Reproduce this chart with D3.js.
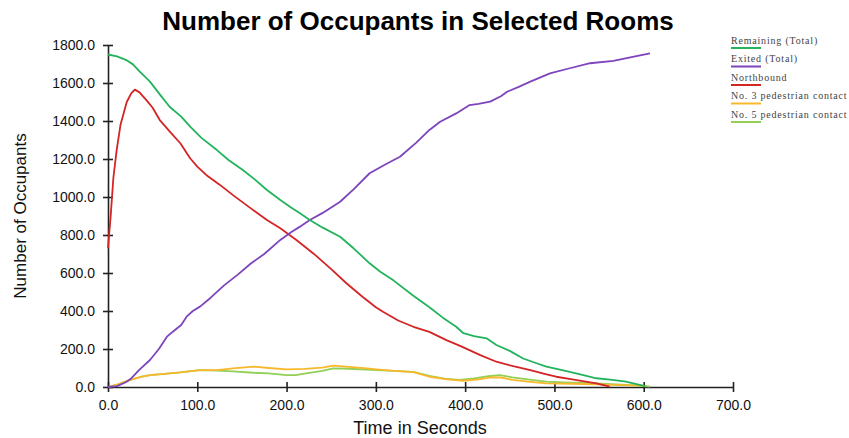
<!DOCTYPE html>
<html>
<head>
<meta charset="utf-8">
<script src="https://cdn.jsdelivr.net/npm/d3@7"></script>
<style>
  html, body { margin: 0; padding: 0; background: #fff; }
  svg { display: block; }
</style>
</head>
<body>
<svg id="chart" width="849" height="438"></svg>
<script>
// Occupant counts per room over time: [seconds, occupants]
const remainingTotal = [[0,1750],[10,1740],[20,1722],[28,1698],[35,1662],[47,1607],[58,1540],[69,1475],[82,1423],[92,1370],[105,1310],[122,1247],[135,1195],[151,1142],[165,1090],[178,1037],[193,984],[205,945],[215,914],[226,879],[240,840],[260,791],[275,730],[293,651],[305,607],[320,560],[342,480],[360,420],[375,365],[390,317],[398,283],[410,268],[424,256],[435,221],[450,190],[465,150],[480,125],[491,107],[510,88],[530,65],[547,46],[565,38],[580,28],[599,7],[602,3]];
const exitedTotal = [[0,0],[10,5],[20,25],[26,45],[35,90],[47,142],[57,200],[66,265],[75,300],[82,326],[88,370],[95,400],[103,423],[115,470],[130,535],[145,590],[160,650],[175,700],[193,774],[205,815],[215,844],[226,879],[240,915],[260,975],[275,1040],[293,1125],[310,1170],[327,1212],[345,1285],[360,1353],[372,1396],[390,1440],[405,1484],[415,1490],[428,1502],[440,1530],[447,1554],[460,1580],[473,1607],[495,1651],[515,1675],[540,1704],[566,1717],[585,1735],[607,1756]];
const northbound = [[0,730],[3,900],[6,1100],[9.7,1247],[14,1380],[21,1500],[26,1545],[30,1565],[35,1552],[43,1510],[50,1470],[58,1405],[70,1340],[81,1283],[92,1204],[100,1160],[110,1116],[125,1065],[140,1010],[160,940],[178,879],[193,835],[211,774],[230,703],[250,620],[267,546],[285,475],[300,420],[308,396],[325,350],[342,317],[360,290],[379,247],[395,215],[417,168],[435,133],[455,108],[473,89],[490,68],[502,54],[520,40],[535,28],[547,19],[555,10],[562,2]];
const pedContact3 = [[0,0],[10,12],[20,30],[28,42],[38,55],[47,63],[60,68],[81,77],[95,85],[103,89],[122,89],[140,98],[163,107],[180,100],[200,93],[220,95],[240,102],[252,112],[270,106],[290,98],[301,93],[320,85],[342,78],[360,54],[380,40],[398,33],[415,40],[428,51],[440,50],[453,37],[470,28],[491,19],[520,17],[547,14],[575,10],[599,7],[603,3]];
const pedContact5 = [[0,0],[10,12],[20,30],[28,42],[38,55],[47,63],[60,68],[81,77],[103,89],[122,86],[140,82],[163,75],[180,72],[200,63],[210,62],[222,72],[240,85],[252,98],[270,96],[301,89],[320,85],[342,80],[360,58],[380,42],[394,37],[410,45],[428,58],[439,62],[453,51],[470,40],[491,28],[510,24],[547,19],[575,12],[603,5],[607,2]];

const seriesNames = ["Remaining (Total)", "Exited (Total)", "Northbound", "No. 3 pedestrian contact", "No. 5 pedestrian contact"];
const seriesData = [remainingTotal, exitedTotal, northbound, pedContact3, pedContact5];
const seriesColors = ["#23b35c", "#7d44bd", "#d42424", "#f9b82c", "#93cf55"];

const xTicks = [0, 100, 200, 300, 400, 500, 600, 700];
const yTicks = [0, 200, 400, 600, 800, 1000, 1200, 1400, 1600, 1800];

const svg = d3.select("#chart");
const plot = { left: 108, right: 733, top: 45, bottom: 387 };

const x = d3.scaleLinear().domain([0, 700]).range([plot.left, plot.right]);
const y = d3.scaleLinear().domain([0, 1800]).range([plot.bottom, plot.top]);

// Title
svg.append("text")
  .attr("x", 418).attr("y", 30)
  .attr("text-anchor", "middle")
  .style("font-family", "'Liberation Sans', Arial, sans-serif")
  .style("font-weight", "bold")
  .style("font-size", "26px")
  .attr("fill", "#000")
  .text("Number of Occupants in Selected Rooms");

// Axes with ticks crossing the axis line
const fmt = d3.format(".1f");
const xAxis = svg.append("g")
  .attr("transform", `translate(0,${plot.bottom})`)
  .call(d3.axisBottom(x).tickValues(xTicks).tickFormat(fmt).tickSizeInner(5).tickSizeOuter(0).tickPadding(8));
const yAxis = svg.append("g")
  .attr("transform", `translate(${plot.left},0)`)
  .call(d3.axisLeft(y).tickValues(yTicks).tickFormat(fmt).tickSizeInner(5).tickSizeOuter(0).tickPadding(8));

xAxis.selectAll(".tick line").attr("y1", -5).attr("y2", 5);
yAxis.selectAll(".tick line").attr("x1", -5).attr("x2", 5);
[xAxis, yAxis].forEach(g => {
  g.select(".domain").attr("stroke", "#222").attr("stroke-width", 1.6);
  g.selectAll(".tick line").attr("stroke", "#222").attr("stroke-width", 1.6);
  g.selectAll(".tick text")
    .attr("fill", "#111")
    .style("font-family", "'Liberation Sans', Arial, sans-serif")
    .style("font-size", "14px");
});

// Axis titles
svg.append("text")
  .attr("x", 420).attr("y", 434)
  .attr("text-anchor", "middle")
  .style("font-family", "'Liberation Sans', Arial, sans-serif")
  .style("font-size", "18px")
  .attr("fill", "#111")
  .text("Time in Seconds");

svg.append("text")
  .attr("transform", "translate(26,216) rotate(-90)")
  .attr("text-anchor", "middle")
  .style("font-family", "'Liberation Sans', Arial, sans-serif")
  .style("font-size", "17px")
  .attr("fill", "#111")
  .text("Number of Occupants");

// Series lines
const line = d3.line().x(d => x(d[0])).y(d => y(d[1]));
const drawOrder = [4, 3, 2, 1, 0];
drawOrder.forEach(i => {
  svg.append("path")
    .datum(seriesData[i])
    .attr("fill", "none")
    .attr("stroke", seriesColors[i])
    .attr("stroke-width", 1.8)
    .attr("stroke-linejoin", "round")
    .attr("d", line);
});

// Legend: label with a coloured underline
const legend = svg.append("g").attr("transform", "translate(731,0)");
seriesNames.forEach((name, i) => {
  const base = 43.5 + i * 18.5;
  legend.append("text")
    .attr("x", 0).attr("y", base)
    .style("font-family", "'Liberation Serif', 'Times New Roman', serif")
    .style("font-size", "10px")
    .style("letter-spacing", "0.8px")
    .attr("fill", "#444")
    .text(name);
  legend.append("line")
    .attr("x1", 0).attr("x2", 30)
    .attr("y1", base + 4.5).attr("y2", base + 4.5)
    .attr("stroke", seriesColors[i])
    .attr("stroke-width", 2);
});
</script>
</body>
</html>
